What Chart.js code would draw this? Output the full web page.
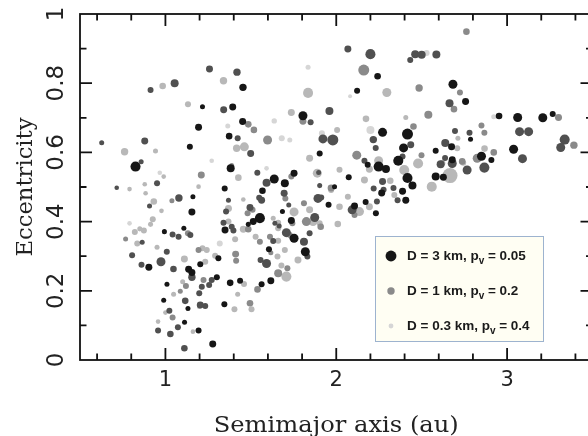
<!DOCTYPE html>
<html>
<head>
<meta charset="utf-8">
<script src="https://cdn.jsdelivr.net/npm/chart.js@4.4.0/dist/chart.umd.min.js"></script>
<style>
html, body { margin: 0; padding: 0; background: #fff; overflow: hidden; }
#wrap { width: 600px; height: 436px; }
</style>
</head>
<body>
<div id="wrap"><canvas id="orbits" width="600" height="436"></canvas></div>
<script>
// [semimajor axis (au), eccentricity, diameter (km)] grouped by albedo p_v
const albedo005 = [
  [0.825,0.559,2.4],[1.217,0.732,0.33],[1.194,0.673,0.85],[1.143,0.616,0.55],[1.161,0.472,0.33],
  [1.155,0.428,0.85],[1.454,0.788,1.0],[1.394,0.731,0.85],[1.452,0.689,0.85],[1.373,0.647,0.72],
  [1.382,0.554,1.25],[1.347,0.496,0.55],[1.568,0.489,0.72],[1.637,0.523,1.75],[1.699,0.511,1.25],
  [1.753,0.540,0.85],[1.685,0.429,0.33],[1.553,0.410,2.4],[1.805,0.706,1.75],[1.903,0.597,0.55],
  [2.242,0.820,0.72],[2.122,0.778,0.55],[2.271,0.658,1.75],[2.417,0.653,3.1],[2.394,0.613,1.75],
  [2.184,0.564,0.55],[2.248,0.559,2.4],[2.291,0.552,1.25],[2.363,0.576,2.4],[2.582,0.605,0.55],
  [2.675,0.616,0.85],[2.582,0.530,1.25],[2.627,0.528,0.85],[2.417,0.526,2.4],[2.446,0.504,1.25],
  [2.073,0.528,0.55],[2.388,0.488,0.85],[1.990,0.501,0.33],[2.683,0.797,1.75],[2.757,0.747,0.85],
  [2.953,0.705,0.72],[3.062,0.701,1.75],[3.209,0.700,1.75],[3.267,0.711,0.55],[2.786,0.638,0.33],
  [3.038,0.609,1.75],[2.850,0.589,1.75],[2.908,0.578,0.55],[2.679,0.579,0.85],[2.266,0.483,0.85],
  [2.172,0.457,0.55],[2.107,0.445,0.85],[1.955,0.449,0.55],[2.232,0.424,0.55],[2.407,0.462,0.85],
  [1.514,0.400,0.85],[1.485,0.392,0.33],[1.349,0.376,0.85],[1.737,0.403,0.85],[1.753,0.352,1.75],
  [1.606,0.320,0.55],[1.819,0.313,1.75],[1.310,0.294,0.55],[1.204,0.277,0.55],[1.301,0.239,0.55],
  [1.379,0.223,0.72],[1.437,0.229,0.55],[1.563,0.219,0.55],[1.617,0.229,0.85],[1.345,0.161,0.55],
  [1.194,0.085,0.55],[1.277,0.046,0.85],[0.903,0.268,0.85],[0.994,0.371,0.33],[1.108,0.381,0.33],
  [1.136,0.262,0.85],[1.155,0.253,0.85],[1.009,0.219,0.33],[0.990,0.173,0.33],[1.132,0.149,0.33],
  [1.112,0.109,0.33]
];

const albedo01 = [
  [0.627,0.628,0.33],[0.858,0.573,0.33],[0.879,0.633,0.85],[0.913,0.780,0.55],[1.054,0.800,1.25],
  [0.715,0.498,0.26],[0.951,0.511,0.55],[0.907,0.445,0.33],[1.079,0.468,1.0],[1.258,0.841,0.85],
  [1.419,0.832,1.0],[1.341,0.723,0.85],[1.423,0.641,0.55],[1.499,0.597,0.85],[1.369,0.462,0.33],
  [1.355,0.429,0.55],[1.495,0.441,0.85],[1.538,0.541,0.55],[1.592,0.512,1.25],[1.695,0.482,0.85],
  [1.563,0.462,0.85],[1.850,0.687,0.55],[1.922,0.639,1.75],[1.960,0.720,1.25],[1.897,0.542,0.33],
  [1.903,0.504,0.33],[2.068,0.899,0.85],[2.200,0.884,2.4],[2.462,0.884,1.25],[2.433,0.867,0.55],
  [2.500,0.882,1.25],[2.586,0.883,1.25],[2.217,0.637,1.0],[1.980,0.636,3.1],[2.231,0.613,0.55],
  [2.436,0.622,0.85],[2.165,0.576,0.55],[2.388,0.588,0.55],[2.638,0.627,1.25],[2.611,0.566,1.25],
  [2.637,0.584,0.55],[2.271,0.516,0.85],[2.277,0.492,0.55],[2.219,0.496,0.55],[2.335,0.497,0.55],
  [2.663,0.742,1.25],[2.780,0.657,0.55],[2.695,0.662,0.55],[3.073,0.660,1.75],[3.126,0.660,1.75],
  [3.337,0.637,2.4],[3.314,0.614,1.75],[3.090,0.582,1.75],[2.867,0.556,2.4],[2.766,0.549,1.75],
  [2.679,0.568,1.75],[2.238,0.458,0.55],[2.093,0.434,1.75],[1.912,0.470,0.55],[2.359,0.462,0.55],
  [1.549,0.469,0.55],[1.722,0.448,0.33],[1.893,0.467,1.75],[1.340,0.397,0.55],[1.388,0.385,0.55],
  [1.398,0.374,0.55],[1.641,0.395,0.33],[1.666,0.387,0.33],[1.708,0.368,1.75],[1.811,0.342,1.25],
  [1.844,0.366,0.55],[1.874,0.412,1.75],[1.631,0.344,0.55],[1.831,0.299,0.55],[1.557,0.289,0.55],
  [1.592,0.279,1.75],[1.256,0.217,0.55],[1.271,0.231,0.55],[1.213,0.212,0.55],[1.233,0.156,0.55],
  [1.204,0.159,0.85],[0.864,0.340,0.33],[0.805,0.303,0.55],[0.860,0.275,0.55],[0.974,0.284,1.75],
  [1.042,0.363,0.55],[1.077,0.356,0.55],[1.146,0.361,0.55],[1.008,0.313,0.55],[1.047,0.263,0.72],
  [1.155,0.239,1.0],[1.198,0.193,0.55],[1.116,0.171,0.72],[1.023,0.142,0.55],[1.073,0.095,0.55],
  [0.957,0.085,0.55],[1.029,0.075,0.72],[1.111,0.034,0.72]
];

const albedo02 = [
  [1.038,0.460,0.33],[1.210,0.535,0.85],[1.485,0.681,0.72],[1.518,0.665,0.72],[1.388,0.562,0.33],
  [1.510,0.434,0.55],[1.598,0.636,1.75],[1.737,0.530,0.55],[1.702,0.467,0.55],[1.805,0.690,0.85],
  [2.161,0.838,3.1],[2.485,0.786,1.0],[2.452,0.675,0.72],[2.539,0.709,1.25],[2.120,0.592,1.75],
  [2.499,0.592,0.55],[1.970,0.497,0.85],[2.762,0.949,0.72],[2.724,0.773,0.55],[2.689,0.725,0.72],
  [3.301,0.701,0.85],[2.850,0.678,0.55],[2.867,0.657,0.55],[3.391,0.621,1.0],[2.825,0.583,1.75],
  [2.922,0.600,0.72],[2.737,0.574,0.72],[2.107,0.419,0.55],[1.811,0.453,0.55],[1.481,0.424,0.55],
  [1.485,0.378,0.72],[1.743,0.395,0.55],[1.728,0.361,0.55],[1.825,0.400,1.75],[1.909,0.385,0.72],
  [1.553,0.342,0.55],[1.612,0.356,0.55],[1.617,0.310,0.33],[1.411,0.306,0.85],[1.414,0.287,0.55],
  [1.223,0.231,0.55],[1.539,0.204,0.72],[1.660,0.251,1.25],[1.714,0.265,0.55],[1.495,0.164,0.72],
  [0.767,0.350,0.33],[1.132,0.366,0.55],[1.194,0.318,0.55],[1.087,0.199,0.33],[1.120,0.214,0.55],
  [1.042,0.123,0.55]
];

const albedo03 = [
  [0.761,0.602,1.0],[0.984,0.792,0.72],[0.942,0.604,0.33],[0.790,0.494,0.26],[0.879,0.508,0.26],
  [0.990,0.530,0.26],[0.884,0.482,0.26],[0.932,0.458,0.72],[0.977,0.431,0.26],[1.132,0.739,0.55],
  [1.194,0.501,0.26],[1.340,0.807,1.0],[1.417,0.612,1.0],[1.462,0.616,1.75],[1.427,0.527,0.72],
  [1.369,0.438,0.85],[1.456,0.464,0.26],[1.737,0.715,0.85],[1.631,0.410,0.33],[1.753,0.428,1.75],
  [1.835,0.772,2.4],[1.844,0.583,0.85],[1.889,0.540,1.75],[2.296,0.773,1.75],[2.174,0.697,0.72],
  [2.407,0.701,0.33],[2.005,0.665,0.55],[2.248,0.576,1.75],[2.479,0.568,2.4],[2.398,0.549,2.4],
  [2.559,0.501,2.4],[2.194,0.551,0.85],[2.165,0.520,0.85],[2.019,0.550,0.55],[2.316,0.518,0.72],
  [2.868,0.611,0.72],[2.743,0.570,0.55],[2.666,0.533,7.5],[2.621,0.569,0.55],[2.708,0.612,0.55],
  [2.712,0.641,0.33],[2.136,0.429,1.75],[2.019,0.443,0.72],[1.970,0.491,0.55],[1.844,0.434,0.85],
  [2.009,0.393,0.72],[1.903,0.395,0.55],[2.068,0.472,0.55],[2.194,0.443,0.85],[2.340,0.477,0.55],
  [1.456,0.378,0.85],[1.660,0.397,0.55],[1.660,0.381,0.55],[1.864,0.400,1.75],[1.408,0.349,0.55],
  [1.528,0.356,0.55],[1.660,0.345,0.55],[1.699,0.318,0.55],[1.656,0.299,0.55],[1.776,0.289,0.85],
  [1.291,0.301,0.55],[1.242,0.318,0.55],[1.233,0.284,0.55],[1.460,0.220,0.55],[1.423,0.190,0.33],
  [1.708,0.241,2.4],[1.679,0.273,0.55],[1.504,0.147,0.55],[1.404,0.147,0.55],[1.369,0.400,0.55],
  [0.926,0.407,0.55],[0.913,0.392,0.33],[0.821,0.370,0.55],[0.850,0.379,0.33],[0.874,0.374,0.55],
  [0.835,0.337,0.55],[0.951,0.326,0.33],[1.111,0.292,0.85],[1.217,0.323,0.55],[1.048,0.190,0.33],
  [1.101,0.226,0.33],[1.198,0.154,0.26],[1.000,0.137,0.26],[1.161,0.082,0.26],[0.957,0.111,0.26]
];

const albedo04 = [
  [0.967,0.541,0.26],[1.271,0.576,0.26],[1.365,0.676,0.33],[1.592,0.554,0.26],[1.637,0.691,0.41],
  [1.681,0.641,0.55],[1.728,0.636,0.33],[1.835,0.846,0.33],[1.916,0.655,0.55],[2.081,0.762,0.17],
  [2.529,0.887,0.55],[2.200,0.665,1.25],[2.922,0.703,0.33],[1.318,0.337,0.55],[0.790,0.395,0.26]
];

const groups = [
  { pv: 0.05, rows: albedo005 },
  { pv: 0.1, rows: albedo01 },
  { pv: 0.2, rows: albedo02 },
  { pv: 0.3, rows: albedo03 },
  { pv: 0.4, rows: albedo04 }
];

const xMajorTicks = [1, 2, 3];
const yMajorTicks = [0, 0.2, 0.4, 0.6, 0.8, 1];
const yTickLabels = ['0', '0.2', '0.4', '0.6', '0.8', '1'];

const legendDiameters = [3, 1, 0.3];
const legendAlbedos = [0.05, 0.2, 0.4];

// grey level per albedo: dark rocks are dark dots
function greyFor(pv) {
    const table = { 0.05: 22, 0.1: 80, 0.2: 138, 0.3: 184, 0.4: 214 };
    const g = table[pv];
    return 'rgb(' + g + ',' + g + ',' + g + ')';
}

function radiusFor(d) {
    return 3.7 * Math.pow(d, 0.35);
}

const datasets = groups.map(g => ({
    label: 'pv ' + g.pv,
    data: g.rows.map(r => ({ x: r[0], y: r[1], d: r[2] })),
    backgroundColor: greyFor(g.pv),
    borderWidth: 0,
    pointRadius: ctx => radiusFor(ctx.raw.d),
    pointHoverRadius: ctx => radiusFor(ctx.raw.d)
}));

// text drawn a little wider than the font, like the original export
function wideText(ctx, text, x, y, sx) {
    ctx.save();
    ctx.translate(x, y);
    ctx.scale(sx, 1);
    ctx.fillText(text, 0, 0);
    ctx.restore();
}

const framePlugin = {
    id: 'frame',
    afterDraw(chart) {
        const ctx = chart.ctx;
        const area = chart.chartArea;
        const xs = chart.scales.x;
        const ys = chart.scales.y;

        ctx.save();
        ctx.strokeStyle = '#111';
        ctx.lineWidth = 1.8;
        ctx.strokeRect(area.left, area.top, area.right - area.left, area.bottom - area.top);

        // inward ticks on all four sides
        ctx.beginPath();
        for (let v = 0.6; v < 3.5; v += 0.2) {
            const val = Math.round(v * 10) / 10;
            const len = Number.isInteger(val) ? 12 : 6.5;
            const px = xs.getPixelForValue(val);
            ctx.moveTo(px, area.bottom); ctx.lineTo(px, area.bottom - len);
            ctx.moveTo(px, area.top); ctx.lineTo(px, area.top + len);
        }
        for (let i = 1; i < 10; i++) {
            const val = i / 10;
            const len = i % 2 === 0 ? 12 : 6.5;
            const py = ys.getPixelForValue(val);
            ctx.moveTo(area.left, py); ctx.lineTo(area.left + len, py);
            ctx.moveTo(area.right, py); ctx.lineTo(area.right - len, py);
        }
        ctx.stroke();

        // tick labels
        ctx.fillStyle = '#222';
        ctx.font = '21px "DejaVu Sans"';
        ctx.textAlign = 'center';
        ctx.textBaseline = 'middle';
        xMajorTicks.forEach(v => {
            ctx.fillText(String(v), xs.getPixelForValue(v), 381);
        });
        ctx.font = '23px "DejaVu Sans"';
        yMajorTicks.forEach((v, i) => {
            ctx.save();
            ctx.translate(57, ys.getPixelForValue(v));
            ctx.rotate(-Math.PI / 2);
            ctx.fillText(yTickLabels[i], 0, 0);
            ctx.restore();
        });

        // axis titles
        ctx.font = '22px "DejaVu Serif"';
        ctx.textBaseline = 'alphabetic';
        wideText(ctx, 'Semimajor axis (au)', (area.left + area.right) / 2, 432, 1.1);
        ctx.save();
        ctx.translate(32, (area.top + area.bottom) / 2);
        ctx.rotate(-Math.PI / 2);
        wideText(ctx, 'Eccentricity', 0, 0, 1.03);
        ctx.restore();

        // legend box
        const bx = 375, by = 236, bw = 168, bh = 105;
        ctx.fillStyle = '#fffef3';
        ctx.fillRect(bx, by, bw, bh);
        ctx.strokeStyle = '#9db3cf';
        ctx.lineWidth = 1;
        ctx.strokeRect(bx + 0.5, by + 0.5, bw, bh);
        const rowY = [256, 291, 326];
        legendDiameters.forEach((d, i) => {
            ctx.fillStyle = greyFor(legendAlbedos[i]);
            ctx.beginPath();
            ctx.arc(391, rowY[i], radiusFor(d), 0, Math.PI * 2);
            ctx.fill();
            ctx.fillStyle = '#1a1a1a';
            ctx.textAlign = 'left';
            ctx.textBaseline = 'middle';
            ctx.font = 'bold 13.5px "Liberation Sans"';
            const head = 'D = ' + d + ' km, p';
            let x = 407;
            ctx.fillText(head, x, rowY[i]);
            x += ctx.measureText(head).width;
            ctx.font = 'bold 10px "Liberation Sans"';
            ctx.fillText('v', x, rowY[i] + 5);
            x += ctx.measureText('v').width;
            ctx.font = 'bold 13.5px "Liberation Sans"';
            ctx.fillText(' = ' + legendAlbedos[i], x, rowY[i]);
        });
        ctx.restore();
    }
};

new Chart(document.getElementById('orbits'), {
    type: 'scatter',
    data: { datasets: datasets },
    options: {
        responsive: false,
        animation: false,
        devicePixelRatio: 1,
        layout: { padding: { left: 80, top: 14, right: 4, bottom: 76 } },
        scales: {
            x: { type: 'linear', min: 0.5, max: 3.5, display: false },
            y: { type: 'linear', min: 0, max: 1, display: false }
        },
        plugins: {
            legend: { display: false },
            tooltip: { enabled: false }
        }
    },
    plugins: [framePlugin]
});
</script>
</body>
</html>
